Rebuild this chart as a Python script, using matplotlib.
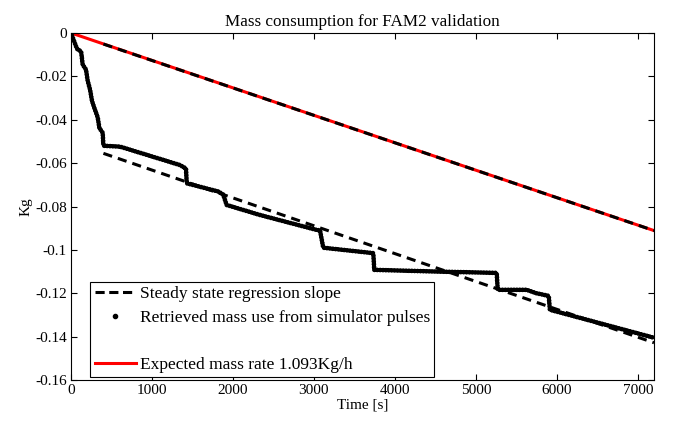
import matplotlib.pyplot as plt
from matplotlib.lines import Line2D

plt.rcParams['font.family'] = ['Liberation Serif', 'DejaVu Serif']

# retrieved mass from simulator pulses (corner points of the staircase)
pulse_t = [0, 10, 70, 83, 124, 144, 185, 206, 235, 259, 288, 330, 350, 391, 400,
           605, 1346, 1420, 1429, 1819, 1880, 1922, 2333, 3034, 3075, 3115, 3362,
           3733, 3745, 4533, 5257, 5270, 5627, 5750, 5900, 5914, 7200]
pulse_m = [0, -0.0010, -0.0070, -0.0077, -0.0084, -0.0146, -0.0169, -0.0221, -0.0261,
           -0.0313, -0.0346, -0.0390, -0.0438, -0.0460, -0.0520,
           -0.0524, -0.0609, -0.0625, -0.0693, -0.0731, -0.0745, -0.0793, -0.0839,
           -0.0908, -0.0910, -0.0990, -0.1000,
           -0.1015, -0.1092, -0.1100, -0.1106, -0.1184, -0.1184, -0.1200, -0.1212,
           -0.1276, -0.1405]

# steady state regression lines
reg_t = [400, 7200]
reg_m = [-0.0555, -0.1428]
reg_exp_m = [-0.0051, -0.0911]

# expected mass rate
exp_t = [0, 7200]
exp_m = [0, -0.0911]

xticks = [0, 1000, 2000, 3000, 4000, 5000, 6000, 7000]
yticks = [0, -0.02, -0.04, -0.06, -0.08, -0.1, -0.12, -0.14, -0.16]
ytick_labels = ['0', '-0.02', '-0.04', '-0.06', '-0.08', '-0.1', '-0.12', '-0.14', '-0.16']

fig = plt.figure(figsize=(6.79, 4.28), dpi=100)
ax = fig.add_axes([0.1046, 0.112, 0.8586, 0.811])

ax.plot(exp_t, exp_m, color='red', lw=2.2, label='Expected mass rate 1.093Kg/h')
ax.plot(reg_t, reg_exp_m, color='black', lw=2.2, linestyle=(0, (3, 2)))
ax.plot(pulse_t, pulse_m, color='black', lw=3.4, linestyle=(0, (0.01, 0.6)),
        dash_capstyle='round')
ax.plot(reg_t, reg_m, color='black', lw=2.2, linestyle=(0, (3, 2)))

ax.set_xlim(0, 7200)
ax.set_ylim(-0.16, 0)
ax.set_xticks(xticks)
ax.set_yticks(yticks)
ax.set_yticklabels(ytick_labels)
ax.tick_params(direction='in', top=True, right=True, labelsize=11, length=4, pad=3)
for s in ax.spines.values():
    s.set_linewidth(0.8)

ax.set_title('Mass consumption for FAM2 validation', fontsize=12.3, pad=5)
ax.set_xlabel('Time [s]', fontsize=11, labelpad=1)
ax.set_ylabel('Kg', fontsize=11, labelpad=2)

handles = [
    Line2D([], [], color='black', lw=2.2, linestyle=(0, (3, 1.5))),
    Line2D([], [], color='black', marker='.', markersize=6, linestyle='none'),
    Line2D([], [], color='none'),
    Line2D([], [], color='red', lw=2.2),
]
labels = ['Steady state regression slope', 'Retrieved mass use from simulator pulses',
          ' ', 'Expected mass rate 1.093Kg/h']
leg = ax.legend(handles, labels, loc='lower left', bbox_to_anchor=(0.033, 0.009),
                borderaxespad=0, fontsize=12.5, fancybox=False, framealpha=1,
                edgecolor='black', handlelength=2.4, handletextpad=0.2,
                labelspacing=0.42, borderpad=0.25)
leg.get_frame().set_linewidth(0.8)

fig.savefig('out.png', dpi=100)
